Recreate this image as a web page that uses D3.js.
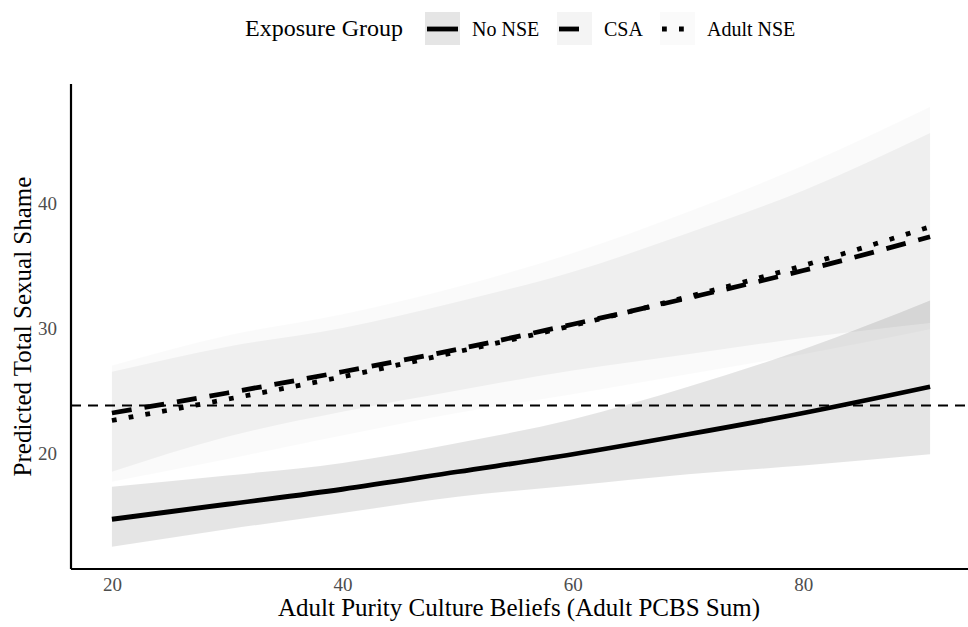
<!DOCTYPE html>
<html>
<head>
<meta charset="utf-8">
<title>Predicted Total Sexual Shame</title>
<script src="https://d3js.org/d3.v7.min.js"></script>
<style>
  body { margin: 0; background: #fff; }
  svg text { font-family: 'Liberation Serif', 'Times New Roman', serif; }
</style>
</head>
<body>
<script>
// Data (x = Adult PCBS Sum)
var xVals     = [20, 30, 40, 50, 60, 70, 80, 91];
var noNseFit  = [14.7, 15.9, 17.1, 18.5, 19.9, 21.5, 23.2, 25.3];
var noNseLo   = [12.5, 13.9, 15.2, 16.5, 17.4, 18.3, 19.0, 19.9];
var noNseHi   = [17.3, 18.2, 19.2, 20.8, 22.7, 25.3, 28.3, 32.2];
var csaFit    = [23.2, 24.8, 26.5, 28.3, 30.3, 32.4, 34.6, 37.3];
var csaLo     = [18.5, 21.3, 23.3, 25.0, 26.6, 27.9, 29.2, 30.4];
var csaHi     = [26.5, 28.5, 30.0, 32.1, 34.5, 37.6, 41.0, 45.6];
var adultFit  = [22.6, 24.3, 26.1, 28.1, 30.2, 32.5, 35.0, 38.1];
var adultLo   = [17.7, 19.5, 21.4, 23.2, 24.7, 26.3, 27.9, 29.9];
var adultHi   = [27.0, 29.4, 31.1, 33.3, 36.0, 39.3, 43.0, 47.7];
var refLine   = 23.8;  // dashed reference line
var xTicks = [20, 40, 60, 80];
var yTicks = [20, 30, 40];
var groups = ["No NSE", "CSA", "Adult NSE"];

var W = 968, H = 627;
var m = {left: 71, right: 0, top: 84, bottom: 58};

var styles = {
  "No NSE":    {dash: null,       op: 0.10},
  "CSA":       {dash: "20,13",    op: 0.045},
  "Adult NSE": {dash: "4.8,12.2", op: 0.02}
};

var series = [
  {name: "No NSE",    fit: noNseFit, lo: noNseLo, hi: noNseHi},
  {name: "CSA",       fit: csaFit,   lo: csaLo,   hi: csaHi},
  {name: "Adult NSE", fit: adultFit, lo: adultLo, hi: adultHi}
];

var svg = d3.select("body").append("svg").attr("width", W).attr("height", H);

var x = d3.scaleLinear().domain([16.45, 94.55]).range([m.left, 971]);
var y = d3.scaleLinear().domain([10.72, 49.52]).range([H - m.bottom, m.top]);

var plot = svg.append("g");

// ribbons
var area = d3.area()
  .x(function(d) { return x(d.x); })
  .y0(function(d) { return y(d.lo); })
  .y1(function(d) { return y(d.hi); })
  .curve(d3.curveMonotoneX);

series.forEach(function(s) {
  var pts = xVals.map(function(v, i) { return {x: v, lo: s.lo[i], hi: s.hi[i]}; });
  plot.append("path").datum(pts)
    .attr("d", area)
    .attr("fill", "#000")
    .attr("fill-opacity", styles[s.name].op);
});

// reference line
plot.append("line")
  .attr("x1", x.range()[0]).attr("x2", W)
  .attr("y1", y(refLine)).attr("y2", y(refLine))
  .attr("stroke", "#000").attr("stroke-width", 2)
  .attr("stroke-dasharray", "10,7");

// fitted lines
var line = d3.line()
  .x(function(d) { return x(d.x); })
  .y(function(d) { return y(d.y); })
  .curve(d3.curveMonotoneX);

series.forEach(function(s) {
  var pts = xVals.map(function(v, i) { return {x: v, y: s.fit[i]}; });
  plot.append("path").datum(pts)
    .attr("d", line)
    .attr("fill", "none")
    .attr("stroke", "#000")
    .attr("stroke-width", 4.8)
    .attr("stroke-dasharray", styles[s.name].dash);
});

// axes
var xAxis = svg.append("g")
  .attr("transform", "translate(0," + (H - m.bottom) + ")")
  .call(d3.axisBottom(x).tickValues(xTicks).tickSize(0).tickPadding(9));
var yAxis = svg.append("g")
  .attr("transform", "translate(" + m.left + ",0)")
  .call(d3.axisLeft(y).tickValues(yTicks).tickSize(0).tickPadding(14));

[xAxis, yAxis].forEach(function(a) {
  a.select(".domain").attr("stroke", "#000").attr("stroke-width", 2.2);
  a.selectAll("text")
    .attr("font-family", "'Liberation Serif', serif")
    .attr("font-size", 19).attr("fill", "#4d4d4d");
});
xAxis.select(".domain").attr("d", "M" + m.left + ",0H" + W);
yAxis.select(".domain").attr("d", "M0," + m.top + "V" + (H - m.bottom));

// axis titles
svg.append("text")
  .attr("x", 519).attr("y", 616)
  .attr("text-anchor", "middle")
  .attr("font-size", 25)
  .text("Adult Purity Culture Beliefs (Adult PCBS Sum)");

svg.append("text")
  .attr("transform", "translate(31," + ((m.top + H - m.bottom) / 2) + ") rotate(-90)")
  .attr("text-anchor", "middle")
  .attr("font-size", 25)
  .text("Predicted Total Sexual Shame");

// legend
var leg = svg.append("g");
leg.append("text").attr("x", 245).attr("y", 36)
  .attr("font-size", 24).text("Exposure Group");

var keyX = [425, 557, 660];
groups.forEach(function(g, i) {
  var k = leg.append("g").attr("transform", "translate(" + keyX[i] + ",12)");
  k.append("rect").attr("width", 35).attr("height", 33)
    .attr("fill", "#000").attr("fill-opacity", styles[g].op);
  k.append("line").attr("x1", 2).attr("x2", 33).attr("y1", 17).attr("y2", 17)
    .attr("stroke", "#000").attr("stroke-width", 4.8)
    .attr("stroke-dasharray", styles[g].dash);
  k.append("text").attr("x", 47).attr("y", 24)
    .attr("font-size", 20).text(g);
});
</script>
</body>
</html>
